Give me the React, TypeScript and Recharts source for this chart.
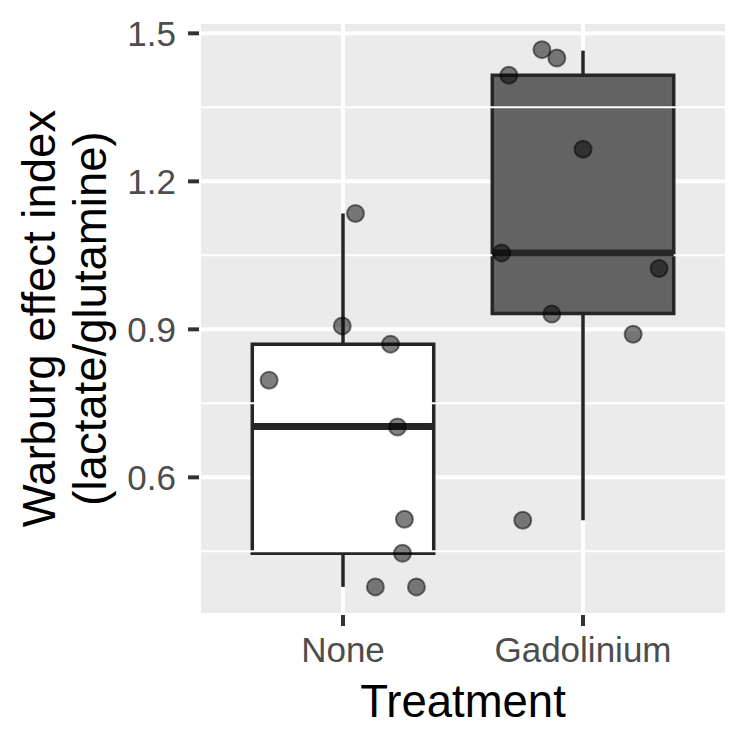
import React from 'react';
import {
  ComposedChart,
  Scatter,
  XAxis,
  YAxis,
  CartesianGrid,
  ReferenceArea,
  ReferenceLine,
} from 'recharts';

// ---- data ----
const categories = ['None', 'Gadolinium'];
const categoryPos = [1, 2];

// box statistics per category
const boxLow = [0.378, 0.513];
const boxQ1 = [0.446, 0.932];
const boxMedian = [0.703, 1.055];
const boxQ3 = [0.87, 1.415];
const boxHigh = [1.135, 1.465];
const boxFill = ['#ffffff', '#636363'];

// jittered points
const noneValues = [1.135, 0.907, 0.87, 0.797, 0.702, 0.515, 0.446, 0.378, 0.378];
const noneJitterX = [1.052, 0.997, 1.198, 0.692, 1.227, 1.256, 1.248, 1.135, 1.306];
const gadValues = [1.467, 1.45, 1.415, 1.265, 1.055, 1.0235, 0.931, 0.89, 0.513];
const gadJitterX = [1.829, 1.891, 1.691, 2.0, 1.661, 2.317, 1.87, 2.209, 1.749];

const yTicks = [0.6, 0.9, 1.2, 1.5];
const yMinorTicks = [0.45, 0.75, 1.05, 1.35];
const yDomain = [0.321, 1.523];
const xDomain = [0.4, 2.6];
const boxHalfWidth = 0.378;

const pointData = [
  ...noneValues.map((v, i) => ({ x: noneJitterX[i], y: v })),
  ...gadValues.map((v, i) => ({ x: gadJitterX[i], y: v })),
];

const FONT = '"Liberation Sans", Arial, Helvetica, sans-serif';
const LINE = '#262626';

const PointShape = (props: any) => (
  <circle
    cx={props.cx}
    cy={props.cy}
    r={8.5}
    fill="#000"
    fillOpacity={0.5}
    stroke="#000"
    strokeOpacity={0.5}
    strokeWidth={2}
  />
);

const YLabel = (props: any) => {
  const vb = props.viewBox || {};
  const cy = vb.y + vb.height / 2;
  const x1 = 55;
  const x2 = 106;
  return (
    <g>
      <text
        x={x1}
        y={cy}
        transform={`rotate(-90, ${x1}, ${cy})`}
        textAnchor="middle"
        fontSize={45.5}
        fontFamily={FONT}
        fill="#000"
      >
        Warburg effect index
      </text>
      <text
        x={x2}
        y={cy}
        transform={`rotate(-90, ${x2}, ${cy})`}
        textAnchor="middle"
        fontSize={45.5}
        fontFamily={FONT}
        fill="#000"
      >
        (lactate/glutamine)
      </text>
    </g>
  );
};

const XLabel = (props: any) => {
  const vb = props.viewBox || {};
  return (
    <text
      x={vb.x + vb.width / 2}
      y={vb.y + 101.7}
      textAnchor="middle"
      fontSize={45.5}
      fontFamily={FONT}
      fill="#000"
    >
      Treatment
    </text>
  );
};

export default function App() {
  return (
    <div style={{ position: 'absolute', left: 0, top: 0, width: 750, height: 750, background: '#fff' }}>
      <ComposedChart
        width={750}
        height={750}
        margin={{ top: 22, right: 23, bottom: 0, left: 0 }}
      >
        <CartesianGrid
          fill="#ebebeb"
          stroke="#ffffff"
          strokeWidth={4}
          horizontal={{ stroke: '#ffffff', strokeWidth: 4 }}
          vertical={{ stroke: '#ffffff', strokeWidth: 4 }}
        />
        <XAxis
          type="number"
          dataKey="x"
          domain={xDomain}
          ticks={categoryPos}
          tickFormatter={(v: number) => categories[categoryPos.indexOf(v)] ?? ''}
          allowDataOverflow
          height={135}
          axisLine={false}
          tickSize={11}
          tickMargin={11}
          tickLine={{ stroke: '#333333', strokeWidth: 4 }}
          tick={{ fill: '#4d4d4d', fontSize: 35, fontFamily: FONT }}
          label={<XLabel />}
        />
        <YAxis
          type="number"
          dataKey="y"
          domain={yDomain}
          ticks={yTicks}
          allowDataOverflow
          width={199}
          axisLine={false}
          tickSize={11}
          tickMargin={12}
          tickFormatter={(v: number) => v.toFixed(1)}
          tickLine={{ stroke: '#333333', strokeWidth: 4 }}
          tick={{ fill: '#4d4d4d', fontSize: 35, fontFamily: FONT }}
          label={<YLabel />}
        />
        {yMinorTicks.map((t) => (
          <ReferenceLine key={`minor-${t}`} y={t} stroke="#ffffff" strokeWidth={2} />
        ))}
        {categoryPos.map((c, i) => (
          <ReferenceLine
            key={`wu-${i}`}
            segment={[{ x: c, y: boxQ3[i] }, { x: c, y: boxHigh[i] }]}
            stroke={LINE}
            strokeWidth={3.5}
          />
        ))}
        {categoryPos.map((c, i) => (
          <ReferenceLine
            key={`wl-${i}`}
            segment={[{ x: c, y: boxLow[i] }, { x: c, y: boxQ1[i] }]}
            stroke={LINE}
            strokeWidth={3.5}
          />
        ))}
        {categoryPos.map((c, i) => (
          <ReferenceArea
            key={`box-${i}`}
            x1={c - boxHalfWidth}
            x2={c + boxHalfWidth}
            y1={boxQ1[i]}
            y2={boxQ3[i]}
            fill={boxFill[i]}
            fillOpacity={1}
            stroke={LINE}
            strokeWidth={3.5}
          />
        ))}
        {categoryPos.map((c, i) => (
          <ReferenceLine
            key={`med-${i}`}
            segment={[{ x: c - boxHalfWidth, y: boxMedian[i] }, { x: c + boxHalfWidth, y: boxMedian[i] }]}
            stroke={LINE}
            strokeWidth={7}
          />
        ))}
        <Scatter data={pointData} shape={PointShape} isAnimationActive={false} />
      </ComposedChart>
    </div>
  );
}
